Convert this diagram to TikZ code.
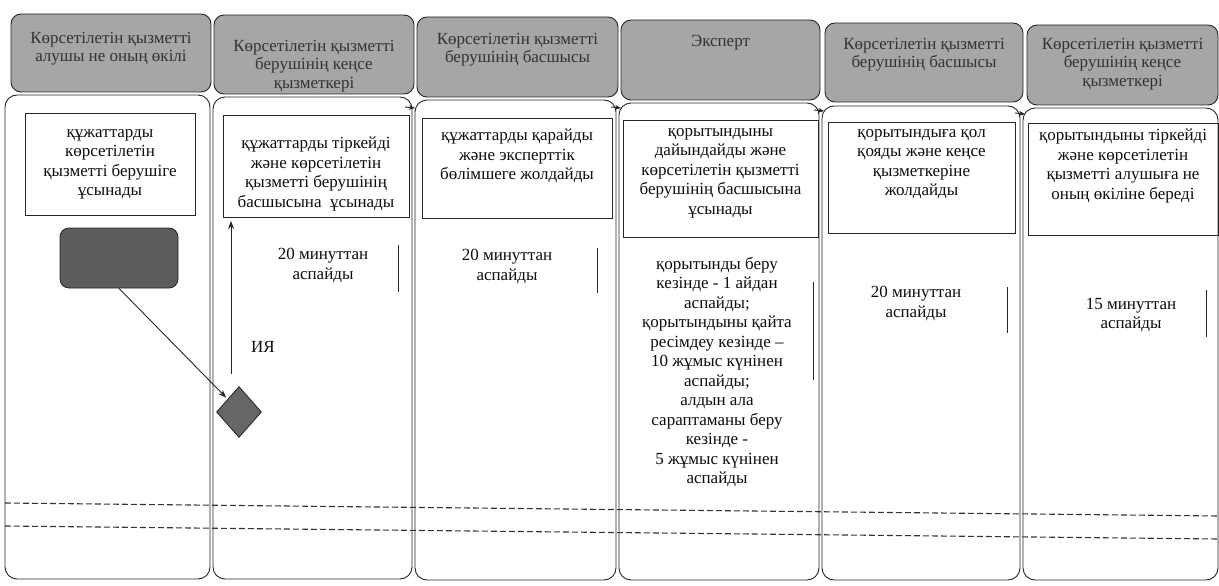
\documentclass[tikz,border=0pt]{standalone}
\usepackage{fontspec}
\setmainfont{Liberation Serif}
\usetikzlibrary{shapes.geometric,arrows.meta}
\begin{document}
\begin{tikzpicture}[x=1pt,y=-1pt,
  hdr/.style={draw=black!85, line width=0.9pt, fill=black!35, rounded corners=10pt, inner sep=0pt},
  lane/.style={draw=black!85, line width=0.9pt, rounded corners=12pt, inner sep=0pt},
  stepbox/.style={draw=black!85, line width=0.9pt, inner sep=0pt},
  htxt/.style={anchor=north, align=center, inner sep=0pt, text=black!80, font=\fontsize{17}{18.5}\selectfont},
  txt/.style={anchor=north, align=center, inner sep=0pt, text=black!95, font=\fontsize{17}{19.5}\selectfont},
  tick/.style={draw=black!85, line width=0.9pt},
  conn/.style={draw=black!85, line width=0.9pt, -{Stealth[length=8pt,width=6pt]}},
  mini/.style={draw=black!85, line width=0.9pt, -{Stealth[length=6pt,width=5pt]}},
  sep/.style={draw=black!80, line width=1.1pt, dash pattern=on 6pt off 3pt}
]
\useasboundingbox (0,0) rectangle (1219,586);
% headers
\node[hdr, minimum width=200pt, minimum height=78pt] (h1) at (111,53) {};
\node[hdr, minimum width=200pt, minimum height=79pt] (h2) at (314,54.5) {};
\node[hdr, minimum width=201pt, minimum height=80pt] (h3) at (517.5,57) {};
\node[hdr, minimum width=199pt, minimum height=80pt] (h4) at (720.5,60) {};
\node[hdr, minimum width=198pt, minimum height=79pt] (h5) at (924,62.5) {};
\node[hdr, minimum width=191pt, minimum height=80pt] (h6) at (1122.5,65) {};
\node[htxt] (h1t) at (111,32) {Көрсетілетін қызметті\\алушы не оның өкілі};
\node[htxt] (h2t) at (314,40) {Көрсетілетін қызметті\\берушінің кеңсе\\қызметкері};
\node[htxt] (h3t) at (517.5,33) {Көрсетілетін қызметті\\берушінің басшысы};
\node[htxt] (h4t) at (720.5,35) {Эксперт};
\node[htxt] (h5t) at (924,38) {Көрсетілетін қызметті\\берушінің басшысы};
\node[htxt] (h6t) at (1122.5,38) {Көрсетілетін қызметті\\берушінің кеңсе\\қызметкері};
% lanes
\node[lane, minimum width=205pt, minimum height=484pt] (b1) at (107.5,337) {};
\node[lane, minimum width=199pt, minimum height=482pt] (b2) at (312.5,338) {};
\node[lane, minimum width=201pt, minimum height=480pt] (b3) at (515.5,340) {};
\node[lane, minimum width=200pt, minimum height=477pt] (b4) at (719,341.5) {};
\node[lane, minimum width=198pt, minimum height=474pt] (b5) at (921,343) {};
\node[lane, minimum width=195pt, minimum height=472pt] (b6) at (1120.5,344) {};
% small arrow tips at lane junctions
\coordinate (a1s) at (405,107); \coordinate (a1e) at (415,108);
\coordinate (a2s) at (611,107); \coordinate (a2e) at (621,108);
\coordinate (a3s) at (814,110); \coordinate (a3e) at (824,111);
\coordinate (a4s) at (1015,113); \coordinate (a4e) at (1025,114);
\draw[mini] (a1s) -- (a1e);
\draw[mini] (a2s) -- (a2e);
\draw[mini] (a3s) -- (a3e);
\draw[mini] (a4s) -- (a4e);
% step boxes
\node[stepbox, minimum width=170pt, minimum height=102pt] (x1) at (110,164) {};
\node[stepbox, minimum width=186pt, minimum height=102pt] (x2) at (316,166) {};
\node[stepbox, minimum width=190pt, minimum height=100pt] (x3) at (517,168) {};
\node[stepbox, minimum width=195pt, minimum height=117pt] (x4) at (720.5,178.5) {};
\node[stepbox, minimum width=187pt, minimum height=111pt] (x5) at (921.5,177.5) {};
\node[stepbox, minimum width=190pt, minimum height=112pt] (x6) at (1123,179) {};
\node[txt] (x1t) at (110,129) {құжаттарды\\көрсетілетін\\қызметті берушіге\\ұсынады};
\node[txt] (x2t) at (316,137) {құжаттарды тіркейді\\және көрсетілетін\\қызметті берушінің\\басшысына~ ұсынады};
\node[txt] (x3t) at (517,129) {құжаттарды қарайды\\және эксперттік\\бөлімшеге жолдайды};
\node[txt] (x4t) at (720.5,128) {қорытындыны\\дайындайды және\\көрсетілетін қызметті\\берушінің басшысына\\ұсынады};
\node[txt] (x5t) at (921.5,129) {қорытындыға қол\\қояды және кеңсе\\қызметкеріне\\жолдайды};
\node[txt] (x6t) at (1123,129) {қорытындыны тіркейді\\және көрсетілетін\\қызметті алушыға не\\оның өкіліне береді};
% start shape and decision
\node[draw=black!85, line width=0.8pt, fill=black!64, rounded corners=9pt, minimum width=118pt, minimum height=60pt, inner sep=0pt] (s) at (119,258) {};
\node[diamond, draw=black!85, line width=0.8pt, fill=black!60, minimum width=45pt, minimum height=51pt, inner sep=0pt] (d) at (239,412) {};
\draw[conn, shorten >=2pt] (s.south) -- (d.north west);
\coordinate (up0) at (231,374);
\coordinate (up1) at (231,221);
\draw[conn] (up0) -- (up1);
\node[txt] (ya) at (263,341) {ИЯ};
% durations
\node[txt] (t2) at (323,248) {20 минуттан\\аспайды};
\node[txt] (t3) at (507,249) {20 минуттан\\аспайды};
\node[txt] (t4) at (717,257) {қорытынды беру\\кезінде - 1 айдан\\аспайды;\\қорытындыны қайта\\ресімдеу кезінде –\\10 жұмыс күнінен\\аспайды;\\алдын ала\\сараптаманы беру\\кезінде -\\5 жұмыс күнінен\\аспайды};
\node[txt] (t5) at (916,286) {20 минуттан\\аспайды};
\node[txt] (t6) at (1131,298) {15 минуттан\\аспайды};
\coordinate (v2a) at (398,245); \coordinate (v2b) at (398,292);
\coordinate (v3a) at (597,248); \coordinate (v3b) at (597,293);
\coordinate (v4a) at (813,282); \coordinate (v4b) at (813,380);
\coordinate (v5a) at (1007,287); \coordinate (v5b) at (1007,333);
\coordinate (v6a) at (1206,290); \coordinate (v6b) at (1206,337);
\draw[tick] (v2a) -- (v2b);
\draw[tick] (v3a) -- (v3b);
\draw[tick] (v4a) -- (v4b);
\draw[tick] (v5a) -- (v5b);
\draw[tick] (v6a) -- (v6b);
% dashed separators
\coordinate (d1a) at (5,503); \coordinate (d1b) at (1219,516);
\coordinate (d2a) at (5,526); \coordinate (d2b) at (1219,539);
\draw[sep] (d1a) -- (d1b);
\draw[sep] (d2a) -- (d2b);
\end{tikzpicture}
\end{document}
